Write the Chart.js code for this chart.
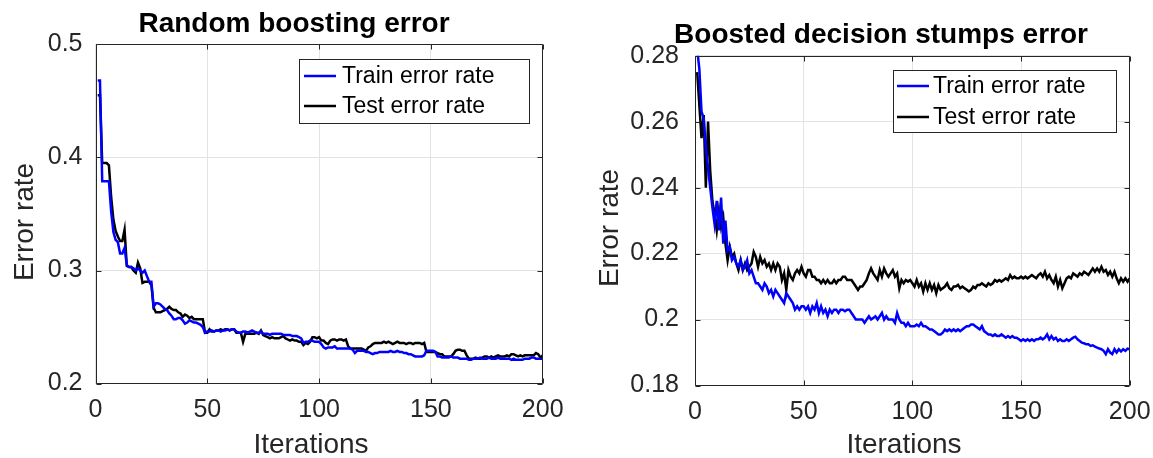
<!DOCTYPE html>
<html>
<head>
<meta charset="utf-8">
<script src="https://cdn.jsdelivr.net/npm/chart.js@4.4.1/dist/chart.umd.min.js"></script>
<style>
  html, body { margin: 0; padding: 0; background: #fff; }
  #wrap { position: relative; width: 1153px; height: 458px; }
  .panel { position: absolute; top: 0; height: 458px; }
</style>
</head>
<body>
<div id="wrap">
  <div class="panel" style="left:0;width:580px"><canvas id="left-chart" width="580" height="458"></canvas></div>
  <div class="panel" style="left:580px;width:573px"><canvas id="right-chart" width="573" height="458"></canvas></div>
</div>
<script>
// ---- data ----
const iterations = Array.from({ length: 200 }, (_, i) => i + 1);
const xTicks = [0, 50, 100, 150, 200];
const leftYTicks = [0.2, 0.3, 0.4, 0.5];
const rightYTicks = [0.18, 0.2, 0.22, 0.24, 0.26, 0.28];
const seriesNames = ['Train error rate', 'Test error rate'];

const randomTrain = [
  0.468, 0.468, 0.379, 0.379, 0.379, 0.379, 0.352, 0.334, 0.327, 0.325,
  0.315, 0.315, 0.320, 0.305, 0.303, 0.303, 0.302, 0.300, 0.302, 0.300,
  0.298, 0.300, 0.295, 0.290, 0.290, 0.268, 0.271, 0.271, 0.270, 0.268,
  0.266, 0.265, 0.262, 0.260, 0.257, 0.257, 0.258, 0.258, 0.256, 0.253,
  0.254, 0.256, 0.255, 0.254, 0.254, 0.253, 0.252, 0.250, 0.245, 0.246,
  0.246, 0.247, 0.246, 0.247, 0.247, 0.246, 0.247, 0.247, 0.248, 0.247,
  0.248, 0.248, 0.246, 0.245, 0.245, 0.246, 0.246, 0.245, 0.246, 0.247,
  0.246, 0.245, 0.245, 0.246, 0.244, 0.244, 0.244, 0.243, 0.244, 0.244,
  0.244, 0.244, 0.244, 0.243, 0.243, 0.243, 0.243, 0.242, 0.242, 0.242,
  0.241, 0.240, 0.236, 0.237, 0.237, 0.238, 0.238, 0.237, 0.237, 0.237,
  0.235, 0.232, 0.231, 0.232, 0.232, 0.232, 0.233, 0.231, 0.231, 0.231,
  0.231, 0.231, 0.231, 0.231, 0.230, 0.227, 0.229, 0.229, 0.229, 0.229,
  0.228, 0.228, 0.227, 0.226, 0.227, 0.227, 0.228, 0.228, 0.228, 0.228,
  0.228, 0.229, 0.228, 0.228, 0.229, 0.228, 0.228, 0.227, 0.227, 0.226,
  0.226, 0.225, 0.224, 0.224, 0.224, 0.224, 0.225, 0.229, 0.229, 0.229,
  0.229, 0.228, 0.224, 0.224, 0.223, 0.223, 0.223, 0.223, 0.224, 0.223,
  0.223, 0.223, 0.222, 0.222, 0.222, 0.222, 0.221, 0.221, 0.222, 0.222,
  0.222, 0.223, 0.222, 0.222, 0.222, 0.223, 0.222, 0.222, 0.222, 0.223,
  0.222, 0.222, 0.222, 0.222, 0.222, 0.221, 0.222, 0.221, 0.221, 0.221,
  0.221, 0.222, 0.222, 0.222, 0.223, 0.223, 0.222, 0.222, 0.222, 0.222
];
const randomTest = [
  0.455, 0.455, 0.395, 0.395, 0.395, 0.393, 0.365, 0.345, 0.335, 0.330,
  0.326, 0.326, 0.336, 0.304, 0.303, 0.303, 0.300, 0.298, 0.307, 0.302,
  0.289, 0.290, 0.290, 0.290, 0.287, 0.267, 0.263, 0.263, 0.263, 0.264,
  0.265, 0.266, 0.268, 0.266, 0.265, 0.265, 0.263, 0.262, 0.259, 0.261,
  0.260, 0.258, 0.259, 0.257, 0.257, 0.257, 0.257, 0.257, 0.245, 0.245,
  0.248, 0.246, 0.246, 0.247, 0.247, 0.248, 0.247, 0.248, 0.248, 0.247,
  0.248, 0.248, 0.245, 0.245, 0.245, 0.237, 0.244, 0.244, 0.244, 0.244,
  0.244, 0.245, 0.244, 0.247, 0.243, 0.242, 0.241, 0.240, 0.241, 0.240,
  0.240, 0.240, 0.241, 0.242, 0.240, 0.239, 0.238, 0.239, 0.238, 0.238,
  0.237, 0.237, 0.234, 0.236, 0.235, 0.237, 0.241, 0.241, 0.240, 0.241,
  0.238, 0.238, 0.236, 0.235, 0.238, 0.239, 0.239, 0.238, 0.239, 0.239,
  0.238, 0.239, 0.233, 0.231, 0.231, 0.231, 0.231, 0.231, 0.231, 0.230,
  0.229, 0.232, 0.233, 0.235, 0.236, 0.236, 0.236, 0.236, 0.237, 0.236,
  0.237, 0.236, 0.235, 0.236, 0.237, 0.236, 0.236, 0.236, 0.235, 0.236,
  0.236, 0.235, 0.236, 0.236, 0.236, 0.235, 0.236, 0.228, 0.228, 0.228,
  0.228, 0.228, 0.227, 0.226, 0.226, 0.224, 0.224, 0.224, 0.224, 0.226,
  0.229, 0.230, 0.230, 0.229, 0.229, 0.225, 0.222, 0.222, 0.222, 0.223,
  0.222, 0.222, 0.223, 0.224, 0.224, 0.223, 0.224, 0.223, 0.224, 0.225,
  0.224, 0.224, 0.224, 0.225, 0.224, 0.226, 0.226, 0.225, 0.224, 0.225,
  0.224, 0.225, 0.225, 0.225, 0.225, 0.225, 0.227, 0.226, 0.223, 0.225
];

const stumpsTrain = [
  0.282, 0.276, 0.263, 0.261, 0.252, 0.246, 0.240, 0.234, 0.229, 0.236,
  0.227, 0.237, 0.223, 0.230, 0.221, 0.222, 0.218, 0.219, 0.217, 0.216,
  0.218, 0.215, 0.216, 0.218, 0.214, 0.215, 0.213, 0.211, 0.211, 0.210,
  0.209, 0.211, 0.210, 0.208, 0.209, 0.207, 0.209, 0.208, 0.207, 0.206,
  0.205, 0.208, 0.207, 0.206, 0.205, 0.203, 0.204, 0.203, 0.204, 0.204,
  0.203, 0.204, 0.202, 0.204, 0.203, 0.205, 0.202, 0.204, 0.202, 0.203,
  0.201, 0.203, 0.202, 0.203, 0.203, 0.202, 0.203, 0.203, 0.2025, 0.203,
  0.203, 0.202, 0.201, 0.200, 0.200, 0.200, 0.200, 0.199, 0.200, 0.201,
  0.200, 0.2005, 0.201, 0.200, 0.201, 0.202, 0.200, 0.201, 0.200, 0.200,
  0.200, 0.199, 0.202, 0.200, 0.199, 0.199, 0.198, 0.199, 0.198, 0.198,
  0.198, 0.1985, 0.198, 0.199, 0.198, 0.198, 0.1975, 0.197, 0.197, 0.1965,
  0.196, 0.1955, 0.1955, 0.196, 0.197, 0.1965, 0.197, 0.1965, 0.197, 0.1965,
  0.197, 0.1965, 0.197, 0.1975, 0.198, 0.198, 0.1985, 0.1985, 0.198, 0.1975,
  0.197, 0.198, 0.1965, 0.196, 0.1955, 0.1955, 0.195, 0.1955, 0.195, 0.195,
  0.1955, 0.195, 0.1945, 0.195, 0.1945, 0.195, 0.1945, 0.1945, 0.194, 0.1935,
  0.194, 0.1935, 0.194, 0.1935, 0.194, 0.1935, 0.194, 0.194, 0.1945, 0.194,
  0.1945, 0.1955, 0.194, 0.195, 0.194, 0.1945, 0.1935, 0.194, 0.1935, 0.1935,
  0.194, 0.1935, 0.194, 0.1945, 0.1948, 0.194, 0.1935, 0.193, 0.1928, 0.1925,
  0.1925, 0.192, 0.1922, 0.1918, 0.1915, 0.1912, 0.191, 0.1905, 0.1895, 0.191,
  0.190, 0.1895, 0.191, 0.190, 0.191, 0.1903, 0.191, 0.1905, 0.1912, 0.191
];
const stumpsTest = [
  0.275, 0.265, 0.255, 0.262, 0.240, 0.260, 0.245, 0.236, 0.232, 0.227,
  0.233, 0.228, 0.231, 0.223, 0.218, 0.222, 0.219, 0.220, 0.217, 0.215,
  0.218, 0.215, 0.217, 0.215, 0.216, 0.217, 0.2205, 0.219, 0.216, 0.219,
  0.217, 0.218, 0.216, 0.217, 0.215, 0.217, 0.215, 0.217, 0.216, 0.212,
  0.214, 0.209, 0.215, 0.213, 0.212, 0.214, 0.215, 0.214, 0.216, 0.214,
  0.213, 0.215, 0.215, 0.213, 0.213, 0.212, 0.212, 0.211, 0.212, 0.211,
  0.212, 0.211, 0.211, 0.212, 0.211, 0.212, 0.212, 0.213, 0.213, 0.212,
  0.212, 0.212, 0.211, 0.210, 0.209, 0.210, 0.210, 0.211, 0.212, 0.214,
  0.2155, 0.214, 0.213, 0.212, 0.215, 0.213, 0.2155, 0.214, 0.213, 0.214,
  0.215, 0.213, 0.214, 0.2095, 0.212, 0.211, 0.212, 0.2115, 0.212, 0.211,
  0.210, 0.212, 0.210, 0.211, 0.2085, 0.211, 0.209, 0.211, 0.209, 0.2105,
  0.208, 0.2105, 0.209, 0.2095, 0.210, 0.211, 0.2095, 0.209, 0.210, 0.210,
  0.2105, 0.2095, 0.210, 0.2095, 0.209, 0.2085, 0.209, 0.210, 0.2095, 0.2105,
  0.2105, 0.211, 0.2105, 0.210, 0.211, 0.2105, 0.211, 0.212, 0.2115, 0.212,
  0.2115, 0.212, 0.2125, 0.212, 0.2135, 0.2125, 0.213, 0.2125, 0.2125, 0.213,
  0.2125, 0.213, 0.2125, 0.213, 0.2135, 0.213, 0.2125, 0.2135, 0.214, 0.213,
  0.2145, 0.2125, 0.2135, 0.212, 0.211, 0.213, 0.210, 0.212, 0.2095, 0.211,
  0.2125, 0.213, 0.2125, 0.214, 0.2135, 0.213, 0.214, 0.2135, 0.2145, 0.214,
  0.2135, 0.2145, 0.2155, 0.2145, 0.2155, 0.2145, 0.216, 0.2145, 0.215, 0.2135,
  0.2145, 0.213, 0.2145, 0.2125, 0.211, 0.2125, 0.2115, 0.2125, 0.2115, 0.2125
];

// ---- styling helpers ----
const FONT = '"Liberation Sans", Arial, Helvetica, sans-serif';
const AXIS_COLOR = '#262626';

// draws the matlab-like box, inward ticks, legend and the texts
const matlabFrame = {
  id: 'matlabFrame',
  afterDatasetsDraw(chart, args, opts) {
    const { ctx, chartArea: a, scales: { x, y } } = chart;
    const L = Math.round(a.left) + 0.5, R = Math.round(a.right) - 0.5;
    const T = Math.round(a.top) + 0.5, B = Math.round(a.bottom) - 0.5;
    ctx.save();
    ctx.strokeStyle = AXIS_COLOR;
    ctx.lineWidth = 1;
    ctx.beginPath();
    ctx.rect(L, T, R - L, B - T);
    x.ticks.forEach(t => {
      const px = Math.round(x.getPixelForValue(t.value)) + 0.5;
      ctx.moveTo(px, B); ctx.lineTo(px, B - 5);
      ctx.moveTo(px, T); ctx.lineTo(px, T + 5);
    });
    y.ticks.forEach(t => {
      const py = Math.round(y.getPixelForValue(t.value)) + 0.5;
      ctx.moveTo(L, py); ctx.lineTo(L + 5, py);
      ctx.moveTo(R, py); ctx.lineTo(R - 5, py);
    });
    ctx.stroke();

    // legend
    const lg = opts.legend;
    ctx.fillStyle = '#fff';
    ctx.fillRect(lg.x, lg.y, lg.w, lg.h);
    ctx.strokeStyle = AXIS_COLOR;
    ctx.strokeRect(lg.x + 0.5, lg.y + 0.5, lg.w, lg.h);
    ctx.font = '23px ' + FONT;
    ctx.textBaseline = 'middle';
    ctx.textAlign = 'left';
    chart.data.datasets.forEach((ds, i) => {
      const ry = lg.rows[i];
      ctx.strokeStyle = ds.borderColor;
      ctx.lineWidth = 2.5;
      ctx.beginPath();
      ctx.moveTo(lg.lineX0, ry); ctx.lineTo(lg.lineX1, ry);
      ctx.stroke();
      ctx.fillStyle = '#000';
      ctx.fillText(ds.label, lg.textX, ry + 1);
    });

    // title and axis labels
    ctx.fillStyle = '#000';
    ctx.textBaseline = 'alphabetic';
    ctx.textAlign = 'center';
    ctx.font = 'bold 28px ' + FONT;
    ctx.fillText(opts.title.text, opts.title.x, opts.title.y);
    ctx.fillStyle = AXIS_COLOR;
    ctx.font = '28px ' + FONT;
    ctx.fillText(opts.xLabel.text, opts.xLabel.x, opts.xLabel.y);
    ctx.translate(opts.yLabel.x, opts.yLabel.y);
    ctx.rotate(-Math.PI / 2);
    ctx.fillText(opts.yLabel.text, 0, 0);
    ctx.restore();
  }
};

function makeChart(canvasId, train, test, yTicks, frame, area) {
  const canvas = document.getElementById(canvasId);
  return new Chart(canvas, {
    type: 'line',
    data: {
      labels: iterations,
      datasets: [
        { label: seriesNames[0], data: train, borderColor: '#0000ff', borderWidth: 2.5, pointRadius: 0, tension: 0 },
        { label: seriesNames[1], data: test, borderColor: '#000000', borderWidth: 2.5, pointRadius: 0, tension: 0 }
      ]
    },
    options: {
      responsive: false,
      animation: false,
      layout: { padding: { left: 0, top: area.top, right: canvas.width - area.right, bottom: 0 } },
      plugins: {
        legend: { display: false },
        title: { display: false },
        tooltip: { enabled: false },
        matlabFrame: frame
      },
      scales: {
        x: {
          type: 'linear',
          min: 0, max: 200,
          afterBuildTicks: s => { s.ticks = xTicks.map(v => ({ value: v })); },
          afterFit: s => {
            s.height = canvas.height - area.bottom;
            s.paddingLeft = 0; s.paddingRight = 0;
          },
          grid: { color: '#e3e3e3', drawTicks: false },
          border: { display: false },
          ticks: { color: AXIS_COLOR, font: { family: FONT, size: 25 }, padding: area.xPad, maxRotation: 0 }
        },
        y: {
          min: yTicks[0], max: yTicks[yTicks.length - 1],
          afterBuildTicks: s => { s.ticks = yTicks.map(v => ({ value: v })); },
          afterFit: s => {
            s.width = area.left;
            s.paddingTop = 0; s.paddingBottom = 0;
          },
          grid: { color: '#e3e3e3', drawTicks: false },
          border: { display: false },
          ticks: {
            color: AXIS_COLOR, font: { family: FONT, size: 25 }, padding: area.yPad,
            callback: v => String(parseFloat(v.toFixed(2)))
          }
        }
      }
    },
    plugins: [matlabFrame]
  });
}

makeChart('left-chart', randomTrain, randomTest, leftYTicks, {
  title: { text: 'Random boosting error', x: 294, y: 32 },
  xLabel: { text: 'Iterations', x: 311, y: 453 },
  yLabel: { text: 'Error rate', x: 33, y: 222 },
  legend: { x: 299, y: 59, w: 230, h: 64, rows: [76, 106], lineX0: 304, lineX1: 336, textX: 342 }
}, { left: 95.5, right: 542.7, top: 44.3, bottom: 383.6, xPad: 12, yPad: 13 });

makeChart('right-chart', stumpsTrain, stumpsTest, rightYTicks, {
  title: { text: 'Boosted decision stumps error', x: 301, y: 43 },
  xLabel: { text: 'Iterations', x: 324, y: 453 },
  yLabel: { text: 'Error rate', x: 38, y: 228 },
  legend: { x: 313, y: 70, w: 223, h: 62, rows: [86, 117], lineX0: 317, lineX1: 349, textX: 353 }
}, { left: 115, right: 549.7, top: 55.7, bottom: 385.5, xPad: 12, yPad: 16 });
</script>
</body>
</html>
